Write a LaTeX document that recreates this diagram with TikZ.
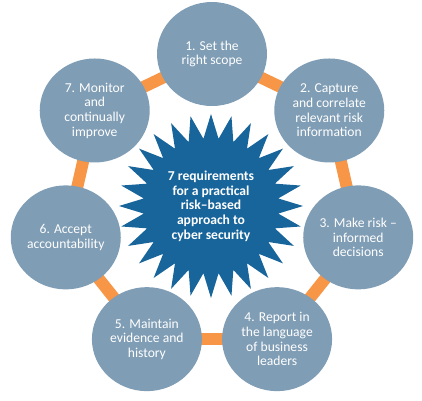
\documentclass[tikz,border=0pt]{standalone}
\usepackage{fontspec}
\setmainfont{Carlito}
\usepackage{xcolor}
\definecolor{cStage}{HTML}{7F9DB5}
\definecolor{cStar}{HTML}{18659B}
\definecolor{cLink}{HTML}{F79646}
\usepackage{tikz}
\usetikzlibrary{shapes.geometric,backgrounds}
\tikzset{
  node-stage/.style={ellipse,fill=cStage,text=white,inner sep=0pt,
    minimum width=110pt,minimum height=104pt,align=center,
    font=\fontsize{13.6}{14.7}\selectfont},
  node-star/.style={star,star points=28,star point ratio=1.36,fill=cStar,
    text=white,inner sep=0pt,minimum size=184pt,align=center,
    font=\bfseries\fontsize{13.6}{14.7}\selectfont},
  link/.style={draw=cLink,line width=12pt,shorten <=-4pt,shorten >=-4pt},
}

\begin{document}
\begin{tikzpicture}
  \useasboundingbox (-212pt,-196pt) rectangle (210pt,204pt);
  \node[node-star] (core) at (-1pt,-2pt)
    {7 requirements\\for a practical\\risk--based\\approach to\\cyber security};
  \foreach \i/\txt in {1/{1. Set the\\right scope},
      2/{2. Capture\\and correlate\\relevant risk\\information},
      3/{3. Make risk --\\informed\\decisions},
      4/{4. Report in\\the language\\of business\\leaders},
      5/{5. Maintain\\evidence and\\history},
      6/{6. Accept\\accountability},
      7/{7. Monitor\\and\\continually\\improve}}
    \node[node-stage] (c\i) at ({90-(\i-1)*360/7}:150pt) {\txt};
  \begin{scope}[on background layer]
    \foreach \i/\j in {1/2,2/3,3/4,4/5,5/6,6/7,7/1}
      \draw[link] (c\i) -- (c\j);
  \end{scope}
\end{tikzpicture}
\end{document}
